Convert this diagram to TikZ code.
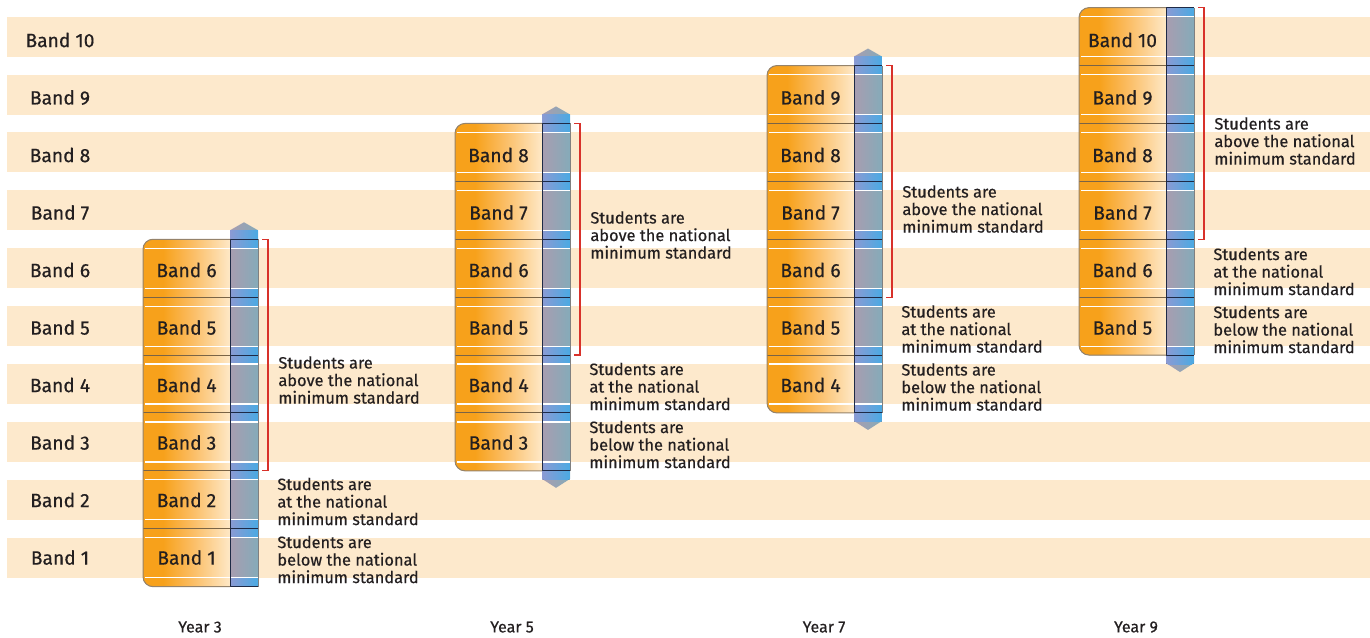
\documentclass[tikz,border=0pt]{standalone}
\usepackage{fontspec}
\setmainfont{Fira Sans}
\newfontfamily\labelfont[FakeBold=0.45]{Fira Sans}
\usepackage{tikz}
\definecolor{stripe}{HTML}{FDE9CC}
\definecolor{boxdark}{HTML}{F7A11B}
\definecolor{boxmid}{HTML}{FBBE66}
\definecolor{boxlight}{HTML}{FEE7C4}
\definecolor{barmauve}{HTML}{A89DB0}
\definecolor{barteal}{HTML}{85ABB9}
\definecolor{barlilac}{HTML}{8B9AD3}
\definecolor{barblue}{HTML}{4AAAE3}
\definecolor{bracketred}{HTML}{D8312A}
\definecolor{inkgray}{HTML}{231F20}
\definecolor{rulebrown}{HTML}{7A6446}
\definecolor{rulenavy}{HTML}{1E2A46}
\pgfdeclarehorizontalshading{boxfade}{100bp}{color(0bp)=(boxdark); color(35bp)=(boxdark); color(50bp)=(boxmid); color(68bp)=(boxlight); color(100bp)=(boxlight)}

\begin{document}
\begin{tikzpicture}[x=0.5pt,y=-0.5pt,
	bandlbl/.style={font=\labelfont\fontsize{9.6}{11}\selectfont,text=inkgray,inner sep=0pt},
	notelbl/.style={font=\labelfont\fontsize{8.2}{8.75}\selectfont,text=inkgray,align=left,anchor=west,inner sep=0pt},
	yearlbl/.style={font=\labelfont\fontsize{8}{9}\selectfont,text=inkgray,inner sep=0pt},
	bracket/.style={draw=bracketred,line width=0.6pt},
	sepline/.style={line width=0.5pt}]
	\useasboundingbox (0,0) rectangle (1370,637);
	\foreach \k in {1,...,10}{
		\fill[stripe] (7,615.6-57.9*\k-20) rectangle (1370,615.6-57.9*\k+20);
		\node[bandlbl] (band\k) at (60,615-57.5*\k) {Band \k};
	}
	\foreach \xl/\lo/\yr/\ay in {143/1/3/380,455/3/5/235,767/4/7/209,1079/5/9/141}{
		\pgfmathtruncatemacro\hi{\lo+5}
		\pgfmathtruncatemacro\loup{\lo+1}
		\pgfmathsetmacro\ytop{615.6-57.9*\hi-28.95}
		\pgfmathsetmacro\ybot{615.6-57.9*\lo+28.95}
		\pgfmathsetmacro\ybr{615.6-57.9*(\hi-3)+28.95}
		\pgfmathsetmacro\yat{615-57.5*\loup+1.5}
		\pgfmathsetmacro\ybelow{615-57.5*\lo+2}
		\pgfmathsetmacro\tsh{(\hi<10)*9}
		\pgfmathsetmacro\tpt{(\hi<10)*17}
		\pgfmathsetmacro\bsh{(\lo>1)*8}
		\pgfmathsetmacro\bpt{(\lo>1)*17}
		\fill[shading=boxfade,rounded corners=5pt] (\xl,\ytop) rectangle (\xl+100,\ybot);
		\path[left color=barmauve,right color=barteal] (\xl+87,\ytop-\tsh) -- (\xl+101,\ytop-\tpt) -- (\xl+115,\ytop-\tsh)
			-- (\xl+115,\ybot+\bsh) -- (\xl+101,\ybot+\bpt) -- (\xl+87,\ybot+\bsh) -- cycle;
		\begin{scope}
			\clip (\xl+87,\ytop-\tsh) -- (\xl+101,\ytop-\tpt) -- (\xl+115,\ytop-\tsh)
				-- (\xl+115,\ybot+\bsh) -- (\xl+101,\ybot+\bpt) -- (\xl+87,\ybot+\bsh) -- cycle;
			\foreach \k in {0,...,10}
				\fill[left color=barlilac,right color=barblue] (\xl+87,615.6-57.9*\k-37.9) rectangle (\xl+115,615.6-57.9*\k-20);
		\end{scope}
		\foreach \k in {\lo,...,\hi}
			\draw[white,line width=0.6pt] (\xl+2,615.6-57.9*\k-20) -- (\xl+115,615.6-57.9*\k-20)
				(\xl+2,615.6-57.9*\k+20) -- (\xl+115,615.6-57.9*\k+20);
		\foreach \k in {\loup,...,\hi}
			\draw[rulebrown,sepline] (\xl,615.6-57.9*\k+28.95) -- (\xl+87,615.6-57.9*\k+28.95);
		\foreach \k in {\lo,...,\hi}
			\draw[rulenavy,sepline] (\xl+87,615.6-57.9*\k+28.95) -- (\xl+115,615.6-57.9*\k+28.95);
		\draw[rulenavy,sepline] (\xl+87,\ytop) -- (\xl+115,\ytop);
		\draw[rulenavy,line width=0.4pt] (\xl+87,\ytop) -- (\xl+87,\ybot);
		\draw[gray,line width=0.4pt] (\xl+115,\ytop) -- (\xl+115,\ybot);
		\draw[rulebrown!80,line width=0.5pt,rounded corners=5pt] (\xl+87,\ytop) -- (\xl,\ytop) -- (\xl,\ybot) -- (\xl+87,\ybot);
		\foreach \k in {\lo,...,\hi}
			\node[bandlbl] (lbl\yr-\k) at (\xl+43.5,615-57.5*\k) {Band \k};
		\coordinate (brt\yr) at (\xl+119,\ytop);
		\coordinate (brb\yr) at (\xl+119,\ybr);
		\draw[bracket] (brt\yr) -- ++(6,0) |- (brb\yr);
		\node[notelbl] (above\yr) at (\xl+135,\ay) {Students are\\above the national\\minimum standard};
		\node[notelbl] (at\yr) at (\xl+134,\yat) {Students are\\at the national\\minimum standard};
		\node[notelbl] (below\yr) at (\xl+134,\ybelow) {Students are\\below the national\\minimum standard};
		\node[yearlbl] (year\yr) at (\xl+57,627) {Year \yr};
	}
\end{tikzpicture}
\end{document}
